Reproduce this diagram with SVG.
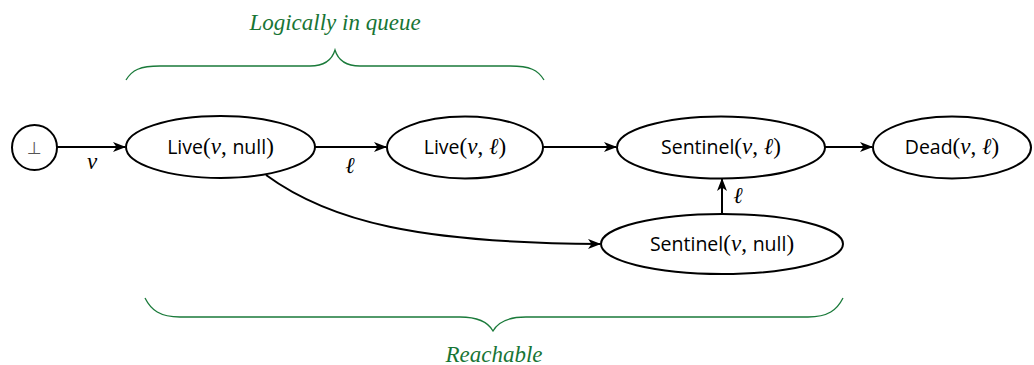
<svg xmlns="http://www.w3.org/2000/svg" width="1034" height="365" viewBox="0 0 1034 365">
<defs>
<style>
.node{fill:#fff;stroke:#000;stroke-width:2}
.edge{fill:none;stroke:#000;stroke-width:2}
.lbl{font-family:"Open Sans","Liberation Sans","DejaVu Sans",sans-serif;font-size:19.5px;fill:#000}
.m{font-family:"Liberation Serif","DejaVu Serif",serif;font-size:23px}
.mi{font-family:"Liberation Serif","DejaVu Serif",serif;font-style:italic;font-size:23px}
.el{font-family:"Liberation Serif","DejaVu Serif",serif;font-style:italic;font-size:23px;fill:#000}
.brace{fill:none;stroke:#1a7a3a;stroke-width:1.3}
.gt{font-family:"Liberation Serif","DejaVu Serif",serif;font-style:italic;font-size:23px;fill:#187535}
</style>
<marker id="arr" viewBox="0 0 13 10" refX="12" refY="5" markerWidth="13" markerHeight="10" markerUnits="userSpaceOnUse" orient="auto">
<path d="M0,0 L13,5 L0,10 L3.5,5 Z" fill="#000"/>
</marker>
</defs>
<g id="braces">
<path class="brace" d="M126,80 C132,70 140,66 160,66 L310,66 C325,66 332,60 335,50 C338,60 345,66 360,66 L510,66 C530,66 538,70 544,80"/>
<text class="gt" x="335" y="30" text-anchor="middle">Logically in queue</text>
<path class="brace" d="M145,298 C151,310 160,317 180,317 L460,317 C478,317 488,322 493,331 C498,322 508,317 526,317 L808,317 C828,317 837,310 843,298"/>
<text class="gt" x="494" y="362" text-anchor="middle">Reachable</text>
</g>
<g id="connectors">
<path class="edge" d="M57,147 L125,147" marker-end="url(#arr)"/>
<path class="edge" d="M315,147 L386,147" marker-end="url(#arr)"/>
<path class="edge" d="M543,147 L616,147" marker-end="url(#arr)"/>
<path class="edge" d="M825,147 L872,147" marker-end="url(#arr)"/>
<path class="edge" d="M722,214 L722,179" marker-end="url(#arr)"/>
<path class="edge" d="M266,175 C330,222 420,243 600,244" marker-end="url(#arr)"/>
<text class="el" x="92" y="169" text-anchor="middle">v</text>
<text class="el" x="350" y="173" text-anchor="middle">ℓ</text>
<text class="el" x="738" y="203" text-anchor="middle">ℓ</text>
</g>
<g id="bottom">
<circle class="node" cx="34.5" cy="147.5" r="22.5"/>
<text x="34.5" y="154" text-anchor="middle" font-family="DejaVu Sans, sans-serif" font-size="17" fill="#555">⊥</text>
</g>
<g id="live-null">
<ellipse class="node" cx="220.5" cy="147" rx="94.5" ry="31"/>
<text class="lbl" x="220.5" y="154" text-anchor="middle">Live<tspan class="m">(</tspan><tspan class="mi">v</tspan><tspan class="m">, </tspan>null<tspan class="m">)</tspan></text>
</g>
<g id="live-l">
<ellipse class="node" cx="465" cy="147.5" rx="78" ry="31"/>
<text class="lbl" x="465" y="154" text-anchor="middle">Live<tspan class="m">(</tspan><tspan class="mi">v</tspan><tspan class="m">, </tspan><tspan class="mi">ℓ</tspan><tspan class="m">)</tspan></text>
</g>
<g id="sentinel-l">
<ellipse class="node" cx="721" cy="147.5" rx="104" ry="31"/>
<text class="lbl" x="721" y="154" text-anchor="middle">Sentinel<tspan class="m">(</tspan><tspan class="mi">v</tspan><tspan class="m">, </tspan><tspan class="mi">ℓ</tspan><tspan class="m">)</tspan></text>
</g>
<g id="dead">
<ellipse class="node" cx="952" cy="147.5" rx="79" ry="31"/>
<text class="lbl" x="952" y="154" text-anchor="middle">Dead<tspan class="m">(</tspan><tspan class="mi">v</tspan><tspan class="m">, </tspan><tspan class="mi">ℓ</tspan><tspan class="m">)</tspan></text>
</g>
<g id="sentinel-null">
<ellipse class="node" cx="722" cy="244" rx="121" ry="30"/>
<text class="lbl" x="722" y="251" text-anchor="middle">Sentinel<tspan class="m">(</tspan><tspan class="mi">v</tspan><tspan class="m">, </tspan>null<tspan class="m">)</tspan></text>
</g>
</svg>
